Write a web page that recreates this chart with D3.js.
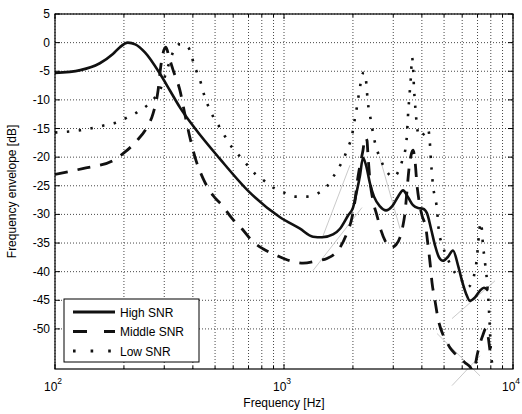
<!DOCTYPE html>
<html>
<head>
<meta charset="utf-8">
<script src="https://cdn.jsdelivr.net/npm/d3@7"></script>
<style>
  html, body { margin: 0; padding: 0; background: #ffffff; }
  svg text { font-family: "Liberation Sans", Arial, sans-serif; fill: #000; }
</style>
</head>
<body>
<svg id="chart" width="522" height="414"></svg>
<script>
// Frequency envelope curves (Hz, dB)
const highFreq = [100, 129, 157, 179, 192, 208, 224, 247, 287, 318, 351, 409, 525, 710, 961, 1175, 1339, 1466, 1637, 1756, 1904, 2002, 2084, 2147, 2213, 2281, 2374, 2472, 2625, 2789, 2963, 3146, 3309, 3480, 3659, 3848, 4046, 4212, 4386, 4565, 4753, 4948, 5202, 5470, 5753, 5989, 6234, 6490, 6825, 7177, 7470, 7778];
const highDb = [-5.3, -4.8, -3.6, -2.0, -0.8, 0, -0.3, -1.7, -5.4, -8.4, -11.3, -15.0, -20.3, -26.2, -30.5, -32.5, -33.9, -34.0, -33.5, -32.5, -30.2, -28.8, -25.8, -23.2, -20.1, -21.4, -24.6, -26.9, -28.6, -29.3, -28.6, -26.9, -25.8, -27.0, -28.4, -28.9, -29.0, -29.8, -32.5, -35.4, -37.5, -38.1, -37.4, -36.3, -38.9, -41.6, -43.8, -45.1, -44.5, -43.3, -42.8, -43.3];

const midFreq = [100, 132, 179, 198, 228, 252, 268, 282, 290, 299, 305, 315, 328, 351, 370, 389, 413, 443, 490, 536, 593, 655, 725, 809, 932, 1062, 1211, 1394, 1541, 1756, 1865, 1982, 2042, 2084, 2147, 2213, 2258, 2304, 2327, 2374, 2447, 2547, 2652, 2789, 2933, 3083, 3211, 3309, 3376, 3445, 3515, 3586, 3659, 3733, 3809, 3887, 4006, 4170, 4255, 4342, 4430, 4565, 4705, 4898, 5099, 5307, 5580, 5870, 6172, 6490, 6689, 6825, 6963, 7177, 7396, 7623, 7778, 7936, 8096];
const midDb = [-23.0, -22.0, -20.6, -19.4, -17.1, -14.8, -12.4, -8.3, -4.0, -1.3, -0.8, -2.6, -4.8, -8.3, -12.7, -16.7, -20.6, -23.7, -26.7, -28.4, -30.7, -32.5, -34.6, -36.0, -37.2, -38.1, -38.5, -38.1, -37.7, -35.8, -33.7, -30.5, -27.6, -24.6, -21.4, -18.8, -16.6, -17.1, -19.7, -24.1, -27.6, -30.2, -32.8, -34.9, -35.8, -35.3, -34.0, -31.9, -29.7, -25.8, -22.0, -19.7, -18.8, -20.6, -24.9, -27.6, -30.2, -32.5, -35.4, -38.4, -41.9, -45.1, -48.2, -50.6, -52.0, -53.3, -54.3, -55.0, -55.9, -56.6, -57.4, -56.6, -54.7, -52.6, -51.0, -49.9, -51.2, -53.8, -55.9];

const lowFreq = [100, 129, 162, 187, 206, 228, 252, 273, 293, 308, 321, 334, 348, 362, 381, 393, 405, 417, 434, 447, 466, 490, 520, 553, 593, 636, 689, 747, 818, 895, 1000, 1117, 1260, 1394, 1541, 1637, 1739, 1828, 1904, 1982, 2022, 2063, 2105, 2147, 2191, 2236, 2281, 2304, 2327, 2374, 2423, 2472, 2547, 2652, 2789, 2992, 3211, 3309, 3411, 3445, 3480, 3532, 3586, 3622, 3659, 3696, 3733, 3771, 3809, 3926, 4087, 4255, 4342, 4386, 4430, 4475, 4565, 4658, 4705, 4753, 4898, 5047, 5307, 5580, 5989, 6297, 6622, 6825, 6963, 7034, 7177, 7250, 7396, 7546, 7699, 7857, 8015];
const lowDb = [-15.7, -15.3, -14.5, -13.9, -13.1, -12.2, -11.0, -9.6, -7.5, -4.8, -2.6, -1.0, -0.3, -0.3, -0.8, -1.9, -4.0, -5.2, -7.1, -9.0, -11.0, -12.9, -14.6, -16.4, -18.3, -19.7, -21.3, -22.9, -24.1, -25.3, -26.2, -26.9, -26.9, -26.4, -25.1, -23.5, -21.8, -20.1, -18.3, -16.2, -14.1, -12.2, -9.9, -7.8, -5.7, -5.2, -6.6, -8.7, -10.6, -12.7, -14.8, -16.7, -18.7, -20.6, -22.3, -23.5, -21.8, -20.1, -17.9, -15.9, -12.7, -9.2, -5.7, -2.6, -4.0, -8.0, -10.6, -12.7, -14.8, -16.5, -15.9, -15.0, -17.9, -20.9, -23.0, -25.1, -27.0, -29.1, -31.2, -33.2, -35.1, -36.7, -38.6, -40.2, -41.6, -42.8, -41.9, -39.8, -37.5, -35.4, -31.9, -31.4, -35.4, -38.4, -41.6, -46.8, -54.7];

// faint grey guide segments in the reference: [f1, dB1, f2, dB2]
const guideSegs = [
  [1339, -39.8, 2191, -28.8],
  [1466, -34.2, 1942, -21.4],
  [2625, -20.2, 3211, -32.5],
  [5415, -48.2, 8344, -41.6],
  [4658, -50.8, 7178, -58.2],
  [5415, -59.9, 7178, -54.7]
];

const yTicks = [5, 0, -5, -10, -15, -20, -25, -30, -35, -40, -45, -50];
const xMajor = [100, 1000, 10000];
const xMinor = [200, 300, 400, 500, 600, 700, 800, 900, 2000, 3000, 4000, 5000, 6000, 7000, 8000, 9000];
const seriesNames = ["High SNR", "Middle SNR", "Low SNR"];

// -- Layout -- //
const plot = {left: 55, right: 513, top: 14, bottom: 369};
const svg = d3.select("#chart");

const x = d3.scaleLog().domain([100, 10000]).range([plot.left, plot.right]);
const y = d3.scaleLinear().domain([-57, 5]).range([plot.bottom, plot.top]);

svg.append("defs").append("clipPath").attr("id", "plotClip")
  .append("rect")
  .attr("x", plot.left).attr("y", plot.top)
  .attr("width", plot.right - plot.left).attr("height", plot.bottom - plot.top);

// Grid (dotted, matlab style)
const grid = svg.append("g")
  .attr("stroke", "#333")
  .attr("stroke-width", 0.9)
  .attr("stroke-dasharray", "1,2");
grid.selectAll("line.gx")
  .data(xMajor.concat(xMinor))
  .join("line")
  .attr("x1", d => x(d)).attr("x2", d => x(d))
  .attr("y1", plot.top).attr("y2", plot.bottom);
grid.selectAll("line.gy")
  .data(yTicks)
  .join("line")
  .attr("x1", plot.left).attr("x2", plot.right)
  .attr("y1", d => y(d)).attr("y2", d => y(d));

// Faint guide segments (not clipped, they run past the axis)
svg.append("g")
  .attr("stroke", "#c4c4c4")
  .attr("stroke-width", 0.9)
  .selectAll("line")
  .data(guideSegs)
  .join("line")
  .attr("x1", d => x(d[0])).attr("y1", d => y(d[1]))
  .attr("x2", d => x(d[2])).attr("y2", d => y(d[3]));

// Curves
const line = d3.line()
  .x(d => x(d[0]))
  .y(d => y(d[1]))
  .curve(d3.curveMonotoneX);

const series = [
  {freq: highFreq, db: highDb, width: 2.6, dash: null, legendDash: null},
  {freq: midFreq, db: midDb, width: 2.8, dash: "13,10", legendDash: "14,17"},
  {freq: lowFreq, db: lowDb, width: 2.6, dash: "2.4,9.5", legendDash: "2.6,15"}
];

const curves = svg.append("g").attr("clip-path", "url(#plotClip)");
series.forEach(s => {
  curves.append("path")
    .datum(s.freq.map((f, i) => [f, s.db[i]]))
    .attr("fill", "none")
    .attr("stroke", "#111")
    .attr("stroke-width", s.width)
    .attr("stroke-dasharray", s.dash)
    .attr("d", line);
});

// Axes frame and ticks
const axisG = svg.append("g").attr("stroke", "#000");
axisG.append("rect")
  .attr("x", plot.left).attr("y", plot.top)
  .attr("width", plot.right - plot.left).attr("height", plot.bottom - plot.top)
  .attr("fill", "none").attr("stroke-width", 1.2);
axisG.selectAll("line.ty")
  .data(yTicks)
  .join("line")
  .attr("x1", plot.left).attr("x2", plot.left + 5)
  .attr("y1", d => y(d)).attr("y2", d => y(d));
axisG.selectAll("line.ty2")
  .data(yTicks)
  .join("line")
  .attr("x1", plot.right - 5).attr("x2", plot.right)
  .attr("y1", d => y(d)).attr("y2", d => y(d));
axisG.selectAll("line.tx")
  .data(xMajor.concat(xMinor))
  .join("line")
  .attr("x1", d => x(d)).attr("x2", d => x(d))
  .attr("y1", d => plot.bottom - (xMajor.includes(d) ? 5 : 3)).attr("y2", plot.bottom);
axisG.selectAll("line.tx2")
  .data(xMajor.concat(xMinor))
  .join("line")
  .attr("x1", d => x(d)).attr("x2", d => x(d))
  .attr("y1", plot.top).attr("y2", d => plot.top + (xMajor.includes(d) ? 5 : 3));

// Tick labels
svg.append("g").selectAll("text")
  .data(yTicks)
  .join("text")
  .attr("x", plot.left - 5)
  .attr("y", d => y(d) + 4)
  .attr("text-anchor", "end")
  .attr("font-size", 12)
  .text(d => d);

const xl = svg.append("g").selectAll("text")
  .data(xMajor)
  .join("text")
  .attr("x", d => x(d) - 2)
  .attr("y", plot.bottom + 22)
  .attr("text-anchor", "middle")
  .attr("font-size", 12);
xl.append("tspan").text("10");
xl.append("tspan")
  .attr("dy", -7)
  .attr("font-size", 8.5)
  .text(d => Math.round(Math.log10(d)));

// Axis titles
svg.append("text")
  .attr("x", (plot.left + plot.right) / 2)
  .attr("y", 407)
  .attr("text-anchor", "middle")
  .attr("font-size", 12)
  .text("Frequency [Hz]");
svg.append("text")
  .attr("transform", `translate(16, ${(plot.top + plot.bottom) / 2}) rotate(-90)`)
  .attr("text-anchor", "middle")
  .attr("font-size", 12)
  .text("Frequency envelope [dB]");

// Legend
const lg = svg.append("g").attr("transform", "translate(64, 299)");
lg.append("rect")
  .attr("width", 135).attr("height", 63)
  .attr("fill", "#fff").attr("stroke", "#000").attr("stroke-width", 1);
series.forEach((s, i) => {
  const ly = 13 + i * 19.5;
  lg.append("line")
    .attr("x1", 9).attr("x2", 51)
    .attr("y1", ly).attr("y2", ly)
    .attr("stroke", "#111")
    .attr("stroke-width", s.width + 0.4)
    .attr("stroke-dasharray", s.legendDash);
  lg.append("text")
    .attr("x", 56).attr("y", ly + 4.5)
    .attr("font-size", 12)
    .text(seriesNames[i]);
});
</script>
</body>
</html>
